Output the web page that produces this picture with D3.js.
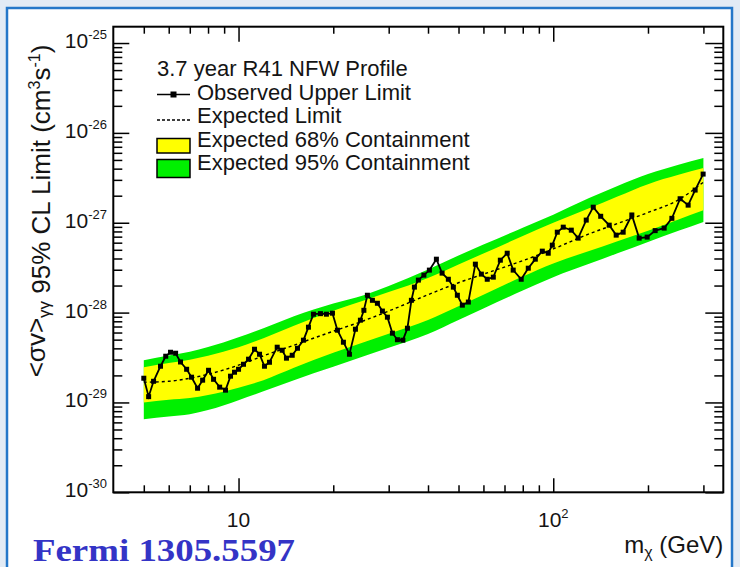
<!DOCTYPE html>
<html>
<head>
<meta charset="utf-8">
<script src="https://cdn.jsdelivr.net/npm/d3@7"></script>
<style>
  html, body { margin: 0; padding: 0; background: #e2ebf5; }
  svg { display: block; }
  text { font-family: "Liberation Sans", Arial, sans-serif; fill: #141414; }
  text.note { font-family: "Liberation Serif", "Times New Roman", serif; font-weight: bold; fill: #3434c6; }
</style>
</head>
<body>
<svg id="chart" width="740" height="567"></svg>
<script>
// Expected-limit band (GeV, cm^3 s^-1)
const bandMass = [5, 6, 7, 8, 10, 12, 15, 20, 25, 30, 40, 50, 60, 80, 100, 130, 160, 200, 250, 300];
const hi95 = [2.95e-29, 3.32e-29, 3.67e-29, 4.14e-29, 5.32e-29, 6.70e-29, 9.12e-29, 1.26e-28, 1.56e-28, 1.98e-28,
              3.01e-28, 4.31e-28, 5.71e-28, 8.79e-28, 1.23e-27, 1.88e-27, 2.56e-27, 3.48e-27, 4.42e-27, 5.24e-27];
const hi68 = [2.47e-29, 2.75e-29, 2.99e-29, 3.31e-29, 4.12e-29, 5.19e-29, 7.13e-29, 1.05e-28, 1.36e-28, 1.69e-28,
              2.43e-28, 3.44e-28, 4.55e-28, 7.11e-28, 1.00e-27, 1.45e-27, 1.96e-27, 2.69e-27, 3.41e-27, 4.06e-27];
const expectedLimit = [1.68e-29, 1.72e-29, 1.86e-29, 2.06e-29, 2.60e-29, 3.30e-29, 4.34e-29, 6.21e-29, 8.12e-29, 1.04e-28,
              1.58e-28, 2.15e-28, 2.68e-28, 3.78e-28, 5.11e-28, 7.52e-28, 9.79e-28, 1.30e-27, 1.80e-27, 2.83e-27];
const lo68 = [1.00e-29, 1.07e-29, 1.12e-29, 1.21e-29, 1.46e-29, 1.77e-29, 2.43e-29, 3.57e-29, 4.68e-29, 5.82e-29,
              8.28e-29, 1.18e-28, 1.58e-28, 2.52e-28, 3.53e-28, 4.85e-28, 6.24e-28, 8.17e-28, 1.09e-27, 1.38e-27];
const lo95 = [6.50e-30, 6.98e-30, 7.39e-30, 8.23e-30, 1.06e-29, 1.33e-29, 1.77e-29, 2.49e-29, 3.27e-29, 4.07e-29,
              5.78e-29, 8.28e-29, 1.11e-28, 1.76e-28, 2.48e-28, 3.49e-28, 4.58e-28, 6.12e-28, 8.13e-28, 1.02e-27];

// Observed 95% CL upper limit
const obsMass = [5.0, 5.18, 5.37, 5.65, 5.87, 6.08, 6.31, 6.54, 6.84, 7.09, 7.41, 7.69, 8.03, 8.33, 8.71, 9.09,
  9.43, 9.71, 10.0, 10.37, 10.76, 11.24, 11.66, 12.09, 12.54, 13.27, 13.76, 14.2, 14.81, 15.39, 16.08, 16.68,
  17.3, 18.21, 19.02, 19.88, 20.62, 21.54, 22.51, 23.52, 24.39, 25.02, 25.67, 26.63, 27.62, 28.65, 29.72, 30.83,
  31.98, 33.28, 34.41, 35.42, 36.21, 37.28, 38.81, 40.4, 42.53, 44.34, 46.42, 48.15, 49.58, 51.42, 53.73, 56.56,
  59.1, 61.7, 64.5, 67.9, 71.4, 74.6, 79.1, 83.3, 87.7, 92.3, 96.4, 99.3, 103.0, 107.6, 114.1, 120.0,
  127.3, 134.0, 141.5, 150.6, 158.5, 166.8, 177.7, 187.5, 198.8, 210.8, 225.1, 238.2, 253.0, 268.3, 282.4, 299.4];
const obsLimit = [1.86e-29, 1.16e-29, 1.72e-29, 2.53e-29, 3.27e-29, 3.62e-29, 3.53e-29, 2.82e-29, 2.34e-29, 1.91e-29,
  1.44e-29, 1.77e-29, 2.28e-29, 1.81e-29, 1.48e-29, 1.37e-29, 1.96e-29, 2.17e-29, 2.34e-29, 2.66e-29,
  3.03e-29, 3.91e-29, 3.44e-29, 2.53e-29, 2.80e-29, 4.12e-29, 3.81e-29, 3.11e-29, 3.35e-29, 4.01e-29,
  4.93e-29, 6.88e-29, 9.60e-29, 9.73e-29, 9.60e-29, 9.85e-29, 6.37e-29, 4.68e-29, 3.44e-29, 6.53e-29,
  8.23e-29, 1.06e-28, 1.56e-28, 1.37e-28, 1.27e-28, 1.04e-28, 8.89e-29, 5.90e-29, 4.99e-29, 4.93e-29,
  6.70e-29, 1.37e-28, 1.92e-28, 2.30e-28, 2.61e-28, 2.97e-28, 3.93e-28, 2.75e-28, 2.35e-28, 1.92e-28,
  1.56e-28, 1.21e-28, 1.31e-28, 3.46e-28, 2.68e-28, 2.35e-28, 2.48e-28, 3.83e-28, 4.58e-28, 2.97e-28,
  2.35e-28, 3.12e-28, 3.93e-28, 4.83e-28, 4.58e-28, 5.63e-28, 7.85e-28, 8.93e-28, 8.27e-28, 6.74e-28,
  1.07e-27, 1.49e-27, 1.18e-27, 9.40e-28, 7.28e-28, 7.85e-28, 1.22e-27, 6.74e-28, 6.92e-28, 8.17e-28,
  8.71e-28, 1.12e-27, 1.85e-27, 1.57e-27, 2.31e-27, 3.48e-27];

// Axis decorations
const xMajorTicks = [10, 100];
const xMajorLabels = [["10", ""], ["10", "2"]];
const yDecades = [-30, -29, -28, -27, -26, -25];

const legendTitle = "3.7 year R41 NFW Profile";
const legendLabels = ["Observed Upper Limit", "Expected Limit", "Expected 68% Containment", "Expected 95% Containment"];

const W = 740, H = 567;
const svg = d3.select("#chart");

// page backdrop and slide panel
svg.append("rect").attr("width", W).attr("height", H).attr("fill", "#e2ebf5");
svg.append("rect").attr("x", 7).attr("y", 8).attr("width", 725).attr("height", 590)
  .attr("fill", "#ffffff").attr("stroke", "#2477c9").attr("stroke-width", 2.5);

const plot = { left: 113.3, top: 26.7, right: 723.3, bottom: 492.3 };
const x = d3.scaleLog().domain([4, 347]).range([plot.left, plot.right]);
const y = d3.scaleLog().domain([1e-30, 1.52e-25]).range([plot.bottom, plot.top]);

svg.append("clipPath").attr("id", "plotClip").append("rect")
  .attr("x", plot.left).attr("y", plot.top)
  .attr("width", plot.right - plot.left).attr("height", plot.bottom - plot.top);

const g = svg.append("g").attr("clip-path", "url(#plotClip)");

const band = bandMass.map((m, i) => ({ m, hi95: hi95[i], hi68: hi68[i], exp: expectedLimit[i], lo68: lo68[i], lo95: lo95[i] }));

const area = (lo, hi) => d3.area()
  .x(d => x(d.m)).y0(d => y(d[lo])).y1(d => y(d[hi]))
  .curve(d3.curveMonotoneX);

g.append("path").datum(band).attr("d", area("lo95", "hi95")).attr("fill", "#00f000");
g.append("path").datum(band).attr("d", area("lo68", "hi68")).attr("fill", "#ffff00");

g.append("path").datum(band)
  .attr("d", d3.line().x(d => x(d.m)).y(d => y(d.exp)).curve(d3.curveMonotoneX))
  .attr("fill", "none").attr("stroke", "#000").attr("stroke-width", 1.4)
  .attr("stroke-dasharray", "3,3");

const obs = obsMass.map((m, i) => ({ m, v: obsLimit[i] }));
g.append("path").datum(obs)
  .attr("d", d3.line().x(d => x(d.m)).y(d => y(d.v)))
  .attr("fill", "none").attr("stroke", "#000").attr("stroke-width", 1.8);
g.selectAll("rect.pt").data(obs).join("rect").attr("class", "pt")
  .attr("x", d => x(d.m) - 2.5).attr("y", d => y(d.v) - 2.5)
  .attr("width", 5).attr("height", 5).attr("fill", "#000");

// frame
svg.append("rect").attr("x", plot.left).attr("y", plot.top)
  .attr("width", plot.right - plot.left).attr("height", plot.bottom - plot.top)
  .attr("fill", "none").attr("stroke", "#000").attr("stroke-width", 2);

// ticks (inward, on all four sides)
const xMinor = x.ticks().filter(v => v > 4.05 && !xMajorTicks.includes(v));
const yAll = y.ticks().filter(v => v >= 9.9e-31);
const isDecade = v => Math.abs(Math.log10(v) - Math.round(Math.log10(v))) < 1e-6;
const yMinor = yAll.filter(v => !isDecade(v));
const yMajor = yDecades.map(e => Math.pow(10, e));

function tickAxis(axisFn, scale, values, size, tx, ty) {
  const a = svg.append("g").attr("transform", `translate(${tx},${ty})`)
    .call(axisFn(scale).tickValues(values).tickSize(-size).tickFormat(""));
  a.select(".domain").remove();
  a.selectAll("text").remove();
  a.selectAll("line").attr("stroke", "#000").attr("stroke-width", 1.5);
}
tickAxis(d3.axisBottom, x, xMinor, 7, 0, plot.bottom);
tickAxis(d3.axisBottom, x, xMajorTicks, 14, 0, plot.bottom);
tickAxis(d3.axisTop, x, xMinor, 7, 0, plot.top);
tickAxis(d3.axisTop, x, xMajorTicks, 15, 0, plot.top);
tickAxis(d3.axisLeft, y, yMinor, 9, plot.left, 0);
tickAxis(d3.axisLeft, y, yMajor, 16, plot.left, 0);
tickAxis(d3.axisRight, y, yMinor, 9, plot.right, 0);
tickAxis(d3.axisRight, y, yMajor, 18, plot.right, 0);

// y tick labels: 10^n
yDecades.forEach(e => {
  const t = svg.append("text").attr("x", 107).attr("y", y(Math.pow(10, e)) + 5)
    .attr("text-anchor", "end").attr("font-size", 21);
  t.append("tspan").text("10");
  t.append("tspan").attr("dy", -9).attr("font-size", 13).text(String(e));
});

// x tick labels
xMajorTicks.forEach((v, i) => {
  const t = svg.append("text").attr("x", x(v)).attr("y", 527)
    .attr("text-anchor", "middle").attr("font-size", 21);
  t.append("tspan").text(xMajorLabels[i][0]);
  if (xMajorLabels[i][1]) t.append("tspan").attr("dy", -9).attr("font-size", 13).text(xMajorLabels[i][1]);
});

// x axis title
{
  const t = svg.append("text").attr("x", plot.right).attr("y", 553)
    .attr("text-anchor", "end").attr("font-size", 24);
  t.append("tspan").text("m");
  t.append("tspan").attr("dy", 5).attr("font-size", 16).text("χ");
  t.append("tspan").attr("dy", -5).text(" (GeV)");
}

// y axis title
{
  const t = svg.append("text").attr("transform", "translate(50,211) rotate(-90)")
    .attr("text-anchor", "middle").attr("font-size", 26);
  t.append("tspan").attr("dy", -5).text("<σv>");
  t.append("tspan").attr("dy", 5).attr("font-size", 17).text("γγ");
  t.append("tspan").text(" 95% CL Limit (cm");
  t.append("tspan").attr("dy", -10).attr("font-size", 16).text("3");
  t.append("tspan").attr("dy", 10).text("s");
  t.append("tspan").attr("dy", -10).attr("font-size", 16).text("-1");
  t.append("tspan").attr("dy", 10).text(")");
}

// legend
const lg = svg.append("g");
const lx0 = 157, lx1 = 190, tx = 197;
const rows = [76, 99.5, 123, 147, 170];
lg.append("text").attr("x", lx0).attr("y", rows[0]).attr("font-size", 22).text(legendTitle);
lg.append("line").attr("x1", lx0).attr("x2", lx1).attr("y1", rows[1] - 5).attr("y2", rows[1] - 5)
  .attr("stroke", "#000").attr("stroke-width", 1.6);
lg.append("rect").attr("x", (lx0 + lx1) / 2 - 3).attr("y", rows[1] - 8).attr("width", 6).attr("height", 6).attr("fill", "#000");
lg.append("line").attr("x1", lx0).attr("x2", lx1).attr("y1", rows[2] - 3).attr("y2", rows[2] - 3)
  .attr("stroke", "#000").attr("stroke-width", 1.3).attr("stroke-dasharray", "3,2");
lg.append("rect").attr("x", lx0).attr("y", 138.5).attr("width", lx1 - lx0).attr("height", 14.5)
  .attr("fill", "#ffff00").attr("stroke", "#000").attr("stroke-width", 1.5);
lg.append("rect").attr("x", lx0).attr("y", 159.5).attr("width", lx1 - lx0).attr("height", 18)
  .attr("fill", "#00f000").attr("stroke", "#000").attr("stroke-width", 1.5);
legendLabels.forEach((s, i) => {
  lg.append("text").attr("x", tx).attr("y", rows[i + 1]).attr("font-size", 22).text(s);
});

// source note
svg.append("text").attr("class", "note").attr("x", 33).attr("y", 561)
  .attr("font-size", 32)
  .attr("textLength", 262).attr("lengthAdjust", "spacingAndGlyphs")
  .text("Fermi 1305.5597");
</script>
</body>
</html>
